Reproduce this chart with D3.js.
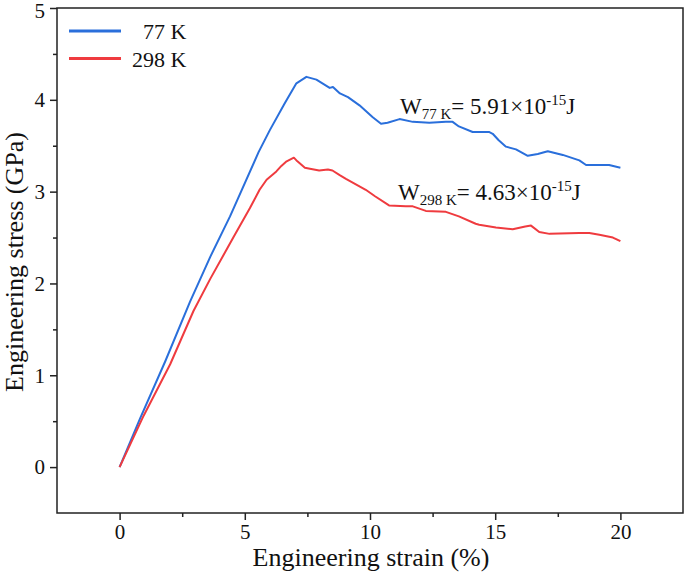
<!DOCTYPE html>
<html>
<head>
<meta charset="utf-8">
<script src="https://cdn.jsdelivr.net/npm/d3@7"></script>
<style>
  body { margin: 0; background: #fff; }
  text { font-family: "Liberation Serif", "Times New Roman", serif; fill: #111; }
</style>
</head>
<body>
<svg id="chart" width="685" height="574"></svg>
<script>
// values
const strain77 = [0, 0.82, 1.82, 2.81, 3.62, 4.41, 5.55, 6.0, 6.59, 7.06, 7.46, 7.86, 8.1, 8.39, 8.52, 8.8, 9.12, 9.58, 10.11, 10.44, 10.7, 11.18, 11.71, 12.37, 13.03, 13.3, 13.55, 14.1, 14.75, 14.9, 15.14, 15.43, 15.83, 16.3, 16.7, 17.1, 17.7, 18.36, 18.63, 19.3, 19.55, 20.0];
const stress77 = [0, 0.53, 1.15, 1.80, 2.29, 2.73, 3.43, 3.67, 3.96, 4.18, 4.25, 4.22, 4.18, 4.13, 4.14, 4.07, 4.03, 3.94, 3.81, 3.74, 3.75, 3.79, 3.76, 3.75, 3.76, 3.76, 3.71, 3.65, 3.65, 3.63, 3.56, 3.49, 3.46, 3.39, 3.41, 3.44, 3.40, 3.34, 3.29, 3.29, 3.29, 3.26];

const strain298 = [0, 0.96, 2.02, 2.95, 3.62, 4.54, 5.2, 5.59, 5.87, 6.26, 6.46, 6.67, 6.96, 7.1, 7.4, 7.6, 7.97, 8.32, 8.5, 8.79, 9.04, 9.83, 10.2, 10.76, 11.43, 11.71, 12.23, 13.03, 13.55, 14.22, 14.36, 15.03, 15.7, 16.2, 16.43, 16.76, 17.17, 18.36, 18.76, 19.16, 19.7, 20.0];
const stress298 = [0, 0.56, 1.12, 1.70, 2.05, 2.50, 2.82, 3.02, 3.13, 3.22, 3.28, 3.33, 3.37, 3.33, 3.26, 3.25, 3.23, 3.24, 3.23, 3.18, 3.14, 3.02, 2.95, 2.85, 2.84, 2.84, 2.79, 2.78, 2.73, 2.65, 2.64, 2.61, 2.59, 2.62, 2.63, 2.56, 2.54, 2.55, 2.55, 2.53, 2.50, 2.46];

const xTicks = [0, 5, 10, 15, 20];
const yTicks = [0, 1, 2, 3, 4, 5];

const series = [
  {label: '  77 K', color: '#2a6fdb', x: strain77, y: stress77},
  {label: '298 K', color: '#ef3b3f', x: strain298, y: stress298}
];

const serif = '"Liberation Serif", "Times New Roman", serif';
const svg = d3.select('#chart');
const plotL = 57, plotT = 8, plotR = 683, plotB = 513;

const x = d3.scaleLinear().domain([-2.5, 22.5]).range([plotL, plotR]);
const y = d3.scaleLinear().domain([-0.5, 5]).range([plotB, plotT]);

// frame
svg.append('rect')
  .attr('x', plotL).attr('y', plotT)
  .attr('width', plotR - plotL).attr('height', plotB - plotT)
  .attr('fill', 'none').attr('stroke', '#222').attr('stroke-width', 1.5);

// minor ticks
const xMinor = [2.5, 7.5, 12.5, 17.5];
const yMinor = [0.5, 1.5, 2.5, 3.5, 4.5];

const xAxis = svg.append('g')
  .attr('transform', 'translate(0,' + plotB + ')')
  .call(d3.axisBottom(x).tickValues(xTicks).tickSize(7).tickPadding(4).tickFormat(d3.format('d')));
xAxis.select('.domain').remove();
xAxis.selectAll('line').attr('stroke', '#222').attr('stroke-width', 1.5);
xAxis.selectAll('text').attr('font-size', 21).attr('font-family', serif).attr('fill', '#111');

svg.append('g')
  .attr('transform', 'translate(0,' + plotB + ')')
  .call(d3.axisBottom(x).tickValues(xMinor).tickSize(4).tickFormat(''))
  .call(g => g.select('.domain').remove())
  .selectAll('line').attr('stroke', '#222').attr('stroke-width', 1.5);

const yAxis = svg.append('g')
  .attr('transform', 'translate(' + plotL + ',0)')
  .call(d3.axisLeft(y).tickValues(yTicks).tickSize(7).tickPadding(5).tickFormat(d3.format('d')));
yAxis.select('.domain').remove();
yAxis.selectAll('line').attr('stroke', '#222').attr('stroke-width', 1.5);
yAxis.selectAll('text').attr('font-size', 21).attr('font-family', serif).attr('fill', '#111');
yAxis.selectAll('.tick').filter(d => d === 5).select('text').attr('dy', '0.45em');

svg.append('g')
  .attr('transform', 'translate(' + plotL + ',0)')
  .call(d3.axisLeft(y).tickValues(yMinor).tickSize(4).tickFormat(''))
  .call(g => g.select('.domain').remove())
  .selectAll('line').attr('stroke', '#222').attr('stroke-width', 1.5);

// curves
const line = d3.line()
  .x(d => x(d[0]))
  .y(d => y(d[1]));

series.forEach(s => {
  svg.append('path')
    .datum(s.x.map((v, i) => [v, s.y[i]]))
    .attr('fill', 'none')
    .attr('stroke', s.color)
    .attr('stroke-width', 2)
    .attr('stroke-linejoin', 'round')
    .attr('d', line);
});

// legend
const legend = svg.append('g');
series.forEach((s, i) => {
  const ly = 31 + i * 27.5;
  legend.append('line')
    .attr('x1', 69).attr('x2', 121).attr('y1', ly).attr('y2', ly)
    .attr('stroke', s.color).attr('stroke-width', 3);
  legend.append('text')
    .attr('x', 132).attr('y', ly + 8)
    .attr('font-size', 22)
    .attr('font-family', serif)
    .attr('xml:space', 'preserve')
    .style('white-space', 'pre')
    .text(s.label);
});

// work annotations
function work(tx, ty, sub, val) {
  const t = svg.append('text').attr('x', tx).attr('y', ty)
    .attr('font-size', 23).attr('font-family', serif);
  t.append('tspan').text('W');
  t.append('tspan').attr('font-size', 15).attr('dy', 5).text(sub);
  t.append('tspan').attr('dy', -5).text('= ' + val + '×10');
  t.append('tspan').attr('font-size', 15).attr('dy', -9).text('-15');
  t.append('tspan').attr('dy', 9).text('J');
}
work(400, 114, '77 K', '5.91');
work(398, 200, '298 K', '4.63');

// axis titles
svg.append('text')
  .attr('x', 371).attr('y', 566)
  .attr('text-anchor', 'middle')
  .attr('font-size', 26)
  .attr('font-family', serif)
  .text('Engineering strain (%)');

svg.append('text')
  .attr('transform', 'translate(23,262) rotate(-90)')
  .attr('text-anchor', 'middle')
  .attr('font-size', 26)
  .attr('font-family', serif)
  .text('Engineering stress (GPa)');
</script>
</body>
</html>
